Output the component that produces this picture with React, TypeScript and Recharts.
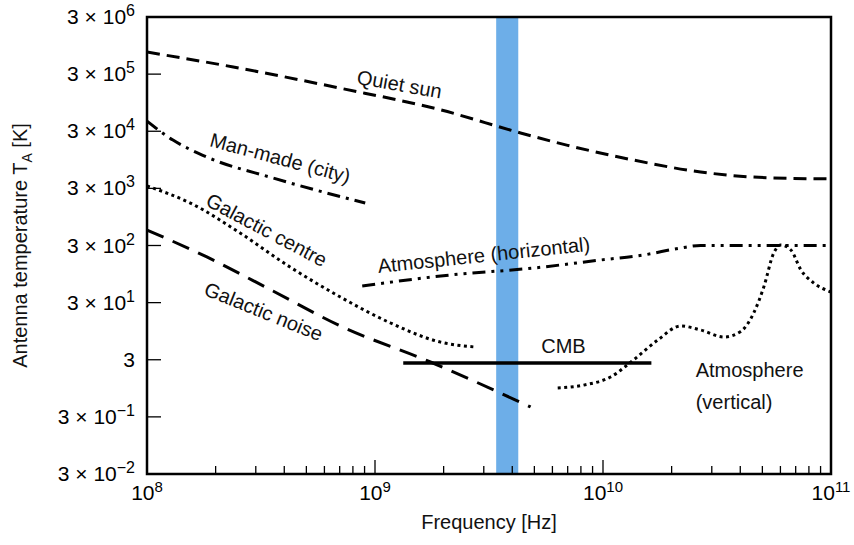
import React from 'react';
import { LineChart, Line, XAxis, YAxis, ReferenceArea, ReferenceDot } from 'recharts';

const FONT = '"Liberation Sans", Arial, Helvetica, sans-serif';

// frequency [Hz] vs antenna temperature [K]
const quietSun = [
  { f: 1e8, t: 7.3e5 },
  { f: 2.39e8, t: 4.0e5 },
  { f: 7.05e8, t: 1.7e5 },
  { f: 1.94e9, t: 7.1e4 },
  { f: 4.35e9, t: 2.8e4 },
  { f: 7.0e9, t: 1.7e4 },
  { f: 1.36e10, t: 9.4e3 },
  { f: 2.68e10, t: 5.8e3 },
  { f: 5.29e10, t: 4.6e3 },
  { f: 1e11, t: 4.4e3 },
];

const manMade = [
  { f: 1e8, t: 4.5e4 },
  { f: 1.3e8, t: 2.1e4 },
  { f: 1.83e8, t: 1.06e4 },
  { f: 3.57e8, t: 4.56e3 },
  { f: 9.06e8, t: 1.66e3 },
];

const galacticCentre = [
  { f: 1e8, t: 3.3e3 },
  { f: 1.55e8, t: 1.66e3 },
  { f: 2.56e8, t: 497 },
  { f: 4.24e8, t: 126 },
  { f: 7.05e8, t: 37.6 },
  { f: 1.17e9, t: 13.2 },
  { f: 1.94e9, t: 6.1 },
  { f: 2.76e9, t: 5.0 },
];

const galacticNoise = [
  { f: 1e8, t: 560 },
  { f: 1.83e8, t: 189 },
  { f: 3.57e8, t: 48 },
  { f: 7.05e8, t: 11.7 },
  { f: 1.75e9, t: 2.74 },
  { f: 4.81e9, t: 0.447 },
];

const atmHorizontal = [
  { f: 8.79e8, t: 58.6 },
  { f: 2.14e9, t: 91.4 },
  { f: 4.96e9, t: 121 },
  { f: 9.75e9, t: 167 },
  { f: 1.51e10, t: 205 },
  { f: 2.19e10, t: 271 },
  { f: 2.68e10, t: 300 },
  { f: 1e11, t: 300 },
];

const atmVertical = [
  { f: 6.33e9, t: 0.96 },
  { f: 8.23e9, t: 1.08 },
  { f: 1.08e10, t: 1.5 },
  { f: 1.36e10, t: 2.97 },
  { f: 1.74e10, t: 6.65 },
  { f: 2.19e10, t: 11.7 },
  { f: 2.68e10, t: 9.95 },
  { f: 3.39e10, t: 7.5 },
  { f: 4.02e10, t: 9.4 },
  { f: 4.58e10, t: 19.7 },
  { f: 5.07e10, t: 56 },
  { f: 5.61e10, t: 222 },
  { f: 6.03e10, t: 306 },
  { f: 6.67e10, t: 250 },
  { f: 7.38e10, t: 112 },
  { f: 8.41e10, t: 66 },
  { f: 1e11, t: 46 },
];

const cmb = [
  { f: 1.33e9, t: 2.64 },
  { f: 1.63e10, t: 2.64 },
];

const band = { from: 3.4e9, to: 4.25e9 };

const curveLabels = [
  { text: 'Quiet sun', f: 1.28e9, t: 2.0e5, angle: 10 },
  { text: 'Man-made (city)', f: 3.84e8, t: 1.02e4, angle: 15 },
  { text: 'Galactic centre', f: 3.35e8, t: 560, angle: 28 },
  { text: 'Galactic noise', f: 3.25e8, t: 21, angle: 22 },
  { text: 'Atmosphere (horizontal)', f: 3.0e9, t: 205, angle: -6 },
  { text: 'CMB', f: 6.71e9, t: 5.22, angle: 0 },
];
const verticalLabel = { lines: ['Atmosphere', '(vertical)'], f: 2.55e10, t: 1.5 };

const xMajorTicks = [1e8, 1e9, 1e10, 1e11];
const xMinorTicks = [
  2e8, 3e8, 4e8, 5e8, 6e8, 7e8, 8e8, 9e8,
  2e9, 3e9, 4e9, 5e9, 6e9, 7e9, 8e9, 9e9,
  2e10, 3e10, 4e10, 5e10, 6e10, 7e10, 8e10, 9e10,
];
const xTicks = [...xMajorTicks, ...xMinorTicks];
const yTicks = [3e-2, 3e-1, 3, 3e1, 3e2, 3e3, 3e4, 3e5, 3e6];

const xDomain = [1e8, 1e11];
const yDomain = [3e-2, 3e6];

const TICK_STROKE = 1.3;

function sup(n: number) {
  return n < 0 ? `\u2212${-n}` : `${n}`;
}

function BottomTick(props: any) {
  const { x, y, payload } = props;
  const v = payload.value;
  const major = xMajorTicks.includes(v);
  const exp = Math.round(Math.log10(v));
  return (
    <g>
      <line x1={x} y1={y} x2={x} y2={y - (major ? 14 : 8)} stroke="#000" strokeWidth={TICK_STROKE} />
      {major && (
        <text x={x} y={y + 26} textAnchor="middle" fontSize={21} fontFamily={FONT} fill="#000">
          10<tspan dy={-8} fontSize={15}>{sup(exp)}</tspan>
        </text>
      )}
    </g>
  );
}

function TopTick(props: any) {
  const { x, y, payload } = props;
  const major = xMajorTicks.includes(payload.value);
  return <line x1={x} y1={y} x2={x} y2={y + (major ? 14 : 8)} stroke="#000" strokeWidth={TICK_STROKE} />;
}

function LeftTick(props: any) {
  const { x, y, payload } = props;
  const n = Math.round(Math.log10(payload.value / 3));
  return (
    <g>
      <line x1={x} y1={y} x2={x + 14} y2={y} stroke="#000" strokeWidth={TICK_STROKE} />
      <text x={x - 12} y={y + 7} textAnchor="end" fontSize={21} fontFamily={FONT} fill="#000">
        {n === 0 ? (
          '3'
        ) : (
          <>
            {'3 \u00d7 10'}
            <tspan dy={-8} fontSize={16}>{sup(n)}</tspan>
          </>
        )}
      </text>
    </g>
  );
}

function RightTick(props: any) {
  const { x, y } = props;
  return <line x1={x} y1={y} x2={x - 14} y2={y} stroke="#000" strokeWidth={TICK_STROKE} />;
}

function curveLabel(text: string, angle: number) {
  return (p: any) => (
    <text
      x={p.cx}
      y={p.cy}
      transform={`rotate(${angle} ${p.cx} ${p.cy})`}
      textAnchor="middle"
      dominantBaseline="central"
      fontSize={20}
      fontFamily={FONT}
      fill="#111"
    >
      {text}
    </text>
  );
}

function verticalShape(p: any) {
  return (
    <text x={p.cx} y={p.cy} fontSize={20} fontFamily={FONT} fill="#111">
      <tspan x={p.cx}>{verticalLabel.lines[0]}</tspan>
      <tspan x={p.cx} dy={32}>{verticalLabel.lines[1]}</tspan>
    </text>
  );
}

function YTitle(p: any) {
  const { x, y, height } = p.viewBox;
  const cx = x + 27;
  const cy = y + height / 2;
  return (
    <text transform={`translate(${cx},${cy}) rotate(-90)`} textAnchor="middle" fontSize={20} fontFamily={FONT} fill="#111">
      Antenna temperature T<tspan dy={5} fontSize={14}>A</tspan>
      <tspan dy={-5}> [K]</tspan>
    </text>
  );
}

function XTitle(p: any) {
  const { x, y, width } = p.viewBox;
  return (
    <text x={x + width / 2} y={y + 55} textAnchor="middle" fontSize={20} fontFamily={FONT} fill="#111">
      Frequency [Hz]
    </text>
  );
}

const lineCommon = {
  type: 'monotone' as const,
  dataKey: 't',
  stroke: '#000',
  strokeWidth: 3,
  dot: false,
  activeDot: false,
  isAnimationActive: false,
};

export default function App() {
  return (
    <div style={{ position: 'absolute', left: 0, top: 0, background: '#fff' }}>
      <LineChart width={854} height={545} margin={{ top: 17, right: 23, bottom: 0, left: 0 }}>
        <XAxis
          dataKey="f"
          type="number"
          scale="log"
          domain={xDomain}
          allowDataOverflow
          ticks={xTicks}
          interval={0}
          tickLine={false}
          tickSize={0}
          tickMargin={0}
          height={71}
          axisLine={false}
          tick={(p: any) => <BottomTick {...p} />}
          label={{ content: XTitle }}
        />
        <XAxis
          xAxisId="top"
          orientation="top"
          dataKey="f"
          type="number"
          scale="log"
          domain={xDomain}
          allowDataOverflow
          ticks={xTicks}
          interval={0}
          tickLine={false}
          tickSize={0}
          tickMargin={0}
          height={0}
          axisLine={false}
          tick={(p: any) => <TopTick {...p} />}
        />
        <YAxis
          type="number"
          scale="log"
          domain={yDomain}
          allowDataOverflow
          ticks={yTicks}
          interval={0}
          tickLine={false}
          tickSize={0}
          tickMargin={0}
          width={147}
          axisLine={false}
          tick={(p: any) => <LeftTick {...p} />}
          label={{ content: YTitle }}
        />
        <YAxis
          yAxisId="right"
          orientation="right"
          type="number"
          scale="log"
          domain={yDomain}
          allowDataOverflow
          ticks={yTicks}
          interval={0}
          tickLine={false}
          tickSize={0}
          tickMargin={0}
          width={0}
          axisLine={false}
          tick={(p: any) => <RightTick {...p} />}
        />

        <ReferenceArea x1={band.from} x2={band.to} fill="#6daee8" fillOpacity={1} stroke="none" />

        <Line {...lineCommon} data={quietSun} strokeDasharray="13 7" />
        <Line {...lineCommon} data={manMade} strokeDasharray="13 6 3 6" />
        <Line {...lineCommon} data={galacticCentre} strokeDasharray="3 3.5" />
        <Line {...lineCommon} data={galacticNoise} strokeDasharray="18 10" />
        <Line {...lineCommon} data={atmHorizontal} strokeDasharray="13 6 3 6 3 6" />
        <Line {...lineCommon} data={atmVertical} strokeDasharray="3 3.5" />
        <Line {...lineCommon} data={cmb} type="linear" strokeWidth={3.5} />

        {curveLabels.map((l) => (
          <ReferenceDot key={l.text} x={l.f} y={l.t} r={0} shape={curveLabel(l.text, l.angle)} />
        ))}
        <ReferenceDot x={verticalLabel.f} y={verticalLabel.t} r={0} shape={verticalShape} />

        {/* plot frame */}
        <ReferenceArea
          x1={xDomain[0]}
          x2={xDomain[1]}
          y1={yDomain[0]}
          y2={yDomain[1]}
          fill="none"
          stroke="#000"
          strokeWidth={2.5}
          ifOverflow="visible"
        />
      </LineChart>
    </div>
  );
}
